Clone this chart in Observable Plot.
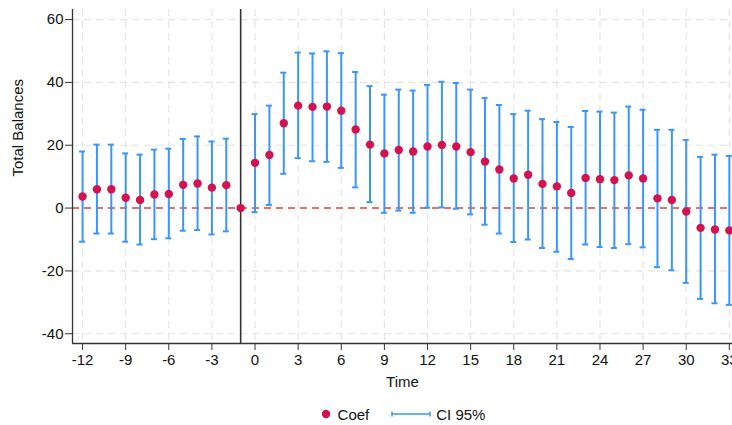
<!DOCTYPE html>
<html>
<head>
<meta charset="utf-8">
<script src="https://cdn.jsdelivr.net/npm/d3@7"></script>
<script src="https://cdn.jsdelivr.net/npm/@observablehq/plot@0.6"></script>
<style>
  html, body { margin: 0; padding: 0; background: #fff; }
  body { width: 732px; height: 425px; overflow: hidden; font-family: "Liberation Sans", Arial, Helvetica, sans-serif; }
  #legend { position: relative; height: 22px; padding-top: 8px; width: 660px; margin-left: 72px; display: flex; justify-content: center; align-items: center; font-size: 15px; color: #111; }
  #legend .item { display: flex; align-items: center; }
</style>
</head>
<body>
<div id="chart"></div>
<div id="legend">
  <div class="item">
    <svg width="14" height="14"><circle cx="7" cy="7" r="4.2" fill="#d3134f"></circle></svg>
    <span style="margin-left:5px">Coef</span>
  </div>
  <div class="item" style="margin-left:22px">
    <svg width="40" height="14"><line x1="1" y1="7" x2="39" y2="7" stroke="#3a96f8" stroke-width="1.5"></line><line x1="1" y1="4.5" x2="1" y2="9.5" stroke="#3a96f8" stroke-width="1.5"></line><line x1="39" y1="4.5" x2="39" y2="9.5" stroke="#3a96f8" stroke-width="1.5"></line></svg>
    <span style="margin-left:5px">CI 95%</span>
  </div>
</div>
<script>
const time = [-12,-11,-10,-9,-8,-7,-6,-5,-4,-3,-2,-1,0,1,2,3,4,5,6,7,8,9,10,11,12,13,14,15,16,17,18,19,20,21,22,23,24,25,26,27,28,29,30,31,32,33];
const coef = [3.7,6.0,6.0,3.3,2.6,4.3,4.5,7.4,7.8,6.5,7.3,0,14.4,16.9,27.0,32.6,32.2,32.3,31.0,25.0,20.2,17.4,18.5,18.0,19.6,20.1,19.6,17.8,14.8,12.3,9.4,10.6,7.7,6.9,4.8,9.6,9.2,8.9,10.4,9.4,3.1,2.6,-1.1,-6.3,-6.8,-7.1];
const ciLow = [-10.7,-8.1,-8.1,-10.7,-11.6,-9.9,-9.6,-7.2,-7.0,-8.4,-7.4,0,-1.3,1.0,10.9,15.9,14.9,14.7,12.8,6.6,1.9,-1.5,-0.8,-1.5,0.1,0.2,-0.2,-2.0,-5.3,-8.1,-10.8,-10.0,-12.7,-13.9,-16.2,-11.6,-12.4,-12.7,-11.5,-12.5,-18.8,-19.8,-23.8,-28.9,-30.3,-30.8];
const ciHigh = [18.0,20.2,20.2,17.4,17.0,18.6,18.9,22.0,22.8,21.2,22.1,0,29.9,32.6,43.1,49.5,49.2,49.9,49.3,43.3,38.8,36.1,37.7,37.4,39.2,40.2,39.8,37.7,35.0,32.8,29.9,31.0,28.3,27.4,25.8,30.9,30.7,30.4,32.3,31.3,24.9,24.9,21.7,16.3,17.0,16.6];
const xTicks = [-12,-9,-6,-3,0,3,6,9,12,15,18,21,24,27,30,33];
const yTicks = [-40,-20,0,20,40,60];
const xTitle = "Time";
const yTitle = "Total Balances";
const xDomain = [-12.7, 33.22];
const yDomain = [-43.1, 63.2];
const eventTime = -1;

const rows = time.map((t, i) => ({t, coef: coef[i], lo: ciLow[i], hi: ciHigh[i]}));
const ci = rows.filter(d => d.t !== eventTime);
const capHalf = 0.21;

const blue = "#3a96f8";
const red = "#e8463f";
const dotColor = "#d3134f";

const chart = Plot.plot({
  width: 732,
  height: 395,
  marginLeft: 72,
  marginRight: 0,
  marginTop: 9,
  marginBottom: 52,
  style: { fontFamily: "'Liberation Sans', Arial, Helvetica, sans-serif", fontSize: "15px", color: "#111", background: "#fff" },
  x: { domain: xDomain, ticks: xTicks, label: null },
  y: { domain: yDomain, ticks: yTicks, label: null },
  marks: [
    Plot.gridX(xTicks, { stroke: "#e4e4e4", strokeOpacity: 1, strokeWidth: 1.2, strokeDasharray: "7,5" }),
    Plot.gridY(yTicks, { stroke: "#e4e4e4", strokeOpacity: 1, strokeWidth: 1.2, strokeDasharray: "7,5" }),
    Plot.ruleY([0], { stroke: red, strokeWidth: 1.5, strokeDasharray: "7,5" }),
    Plot.ruleX([eventTime], { stroke: "#333", strokeWidth: 1.6 }),
    Plot.ruleX(ci, { x: "t", y1: "lo", y2: "hi", stroke: blue, strokeWidth: 2 }),
    Plot.ruleY(ci, { y: "hi", x1: d => d.t - capHalf, x2: d => d.t + capHalf, stroke: blue, strokeWidth: 2 }),
    Plot.ruleY(ci, { y: "lo", x1: d => d.t - capHalf, x2: d => d.t + capHalf, stroke: blue, strokeWidth: 2 }),
    Plot.dot(rows, { x: "t", y: "coef", r: 4.2, fill: dotColor, stroke: "none" }),
    Plot.ruleX([xDomain[0]], { stroke: "#333", strokeWidth: 1.3 }),
    Plot.ruleY([yDomain[0]], { stroke: "#333", strokeWidth: 1.3 }),
    Plot.axisX(xTicks, { tickSize: 7, tickPadding: 4, stroke: "#333", tickFormat: d => String(d), fontSize: 15, label: null }),
    Plot.axisY(yTicks, { tickSize: 7, tickPadding: 2, stroke: "#333", tickFormat: d => String(d), fontSize: 15, label: null }),
    Plot.text([xTitle], { frameAnchor: "bottom", dy: 43, fontSize: 15, fill: "#111" }),
    Plot.text([yTitle], { frameAnchor: "left", dx: -54, rotate: -90, fontSize: 15, fill: "#111" })
  ]
});
document.getElementById("chart").appendChild(chart);
</script>
</body>
</html>
